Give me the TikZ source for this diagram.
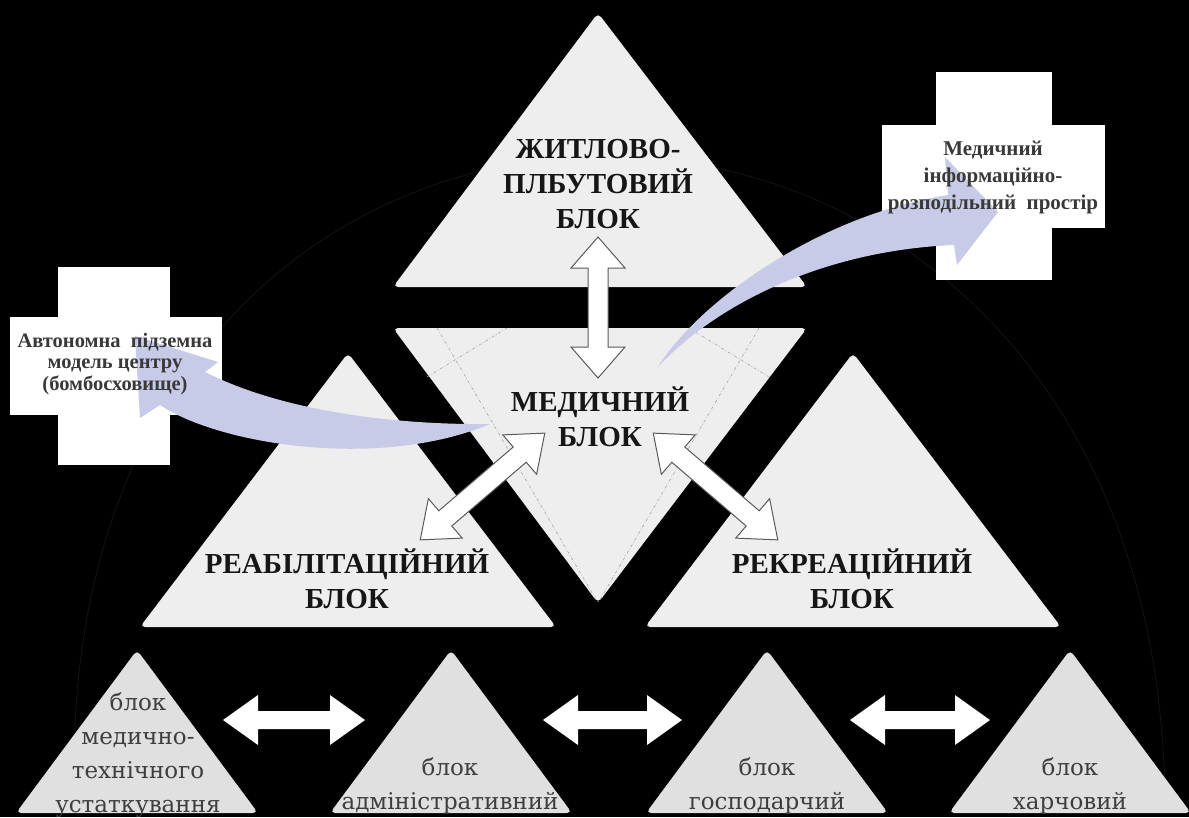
\documentclass[tikz,border=0pt]{standalone}
\usepackage{fontspec}
\setmainfont{Liberation Serif}
\newfontfamily\botfont{DejaVu Serif}
\definecolor{tri}{RGB}{238,238,238}
\definecolor{trib}{RGB}{224,224,224}
\definecolor{lav}{RGB}{200,203,232}
\definecolor{faint}{RGB}{16,21,28}
\definecolor{txt}{RGB}{22,22,22}
\definecolor{bottxt}{RGB}{62,62,62}
\definecolor{outl}{RGB}{90,90,90}
\newcommand\DblArrow[8]{%
 \begin{scope}[shift={(#1,#2)},rotate=#3]
 \path[#8] (-#4,0) -- (-#4+#5,#6) -- (-#4+#5,#7) -- (#4-#5,#7) -- (#4-#5,#6) -- (#4,0)
   -- (#4-#5,-#6) -- (#4-#5,-#7) -- (-#4+#5,-#7) -- (-#4+#5,-#6) -- cycle;
 \end{scope}}
\tikzset{
 bigtri/.style={fill=tri, rounded corners=5pt},
 smalltri/.style={fill=trib, rounded corners=5pt},
 crossbox/.style={fill=white},
 dashln/.style={draw=gray!70, line width=0.6pt, dash dot},
 faintln/.style={draw=faint, line width=0.8pt},
 curvearr/.style={fill=lav},
 outlarr/.style={fill=white, draw=outl, line width=1pt},
 plainarr/.style={fill=white},
 biglabel/.style={text=txt, align=center, font=\fontsize{29}{35}\selectfont\bfseries},
 botlabel/.style={text=bottxt, align=center, font=\botfont\fontsize{23}{34}\selectfont},
 crosslabel/.style={text=txt!85, align=center, font=\fontsize{20.5}{21.5}\selectfont\bfseries},
}
\begin{document}
\begin{tikzpicture}[x=1pt,y=-1pt]
\fill[black] (0,0) rectangle (1189,817);
\useasboundingbox (0,0) rectangle (1189,817);
% faint background arc
\draw[faintln] (75,805) .. controls (40,-60) and (1160,-60) .. (1165,805);
% big triangles
\fill[bigtri] (598,287) -- (807,287) -- (598,13) -- (393,287) -- cycle;
\fill[bigtri] (598,328) -- (807,328) -- (598,603) -- (393,328) -- cycle;
\fill[bigtri] (348,627) -- (556,627) -- (348,353) -- (140,627) -- cycle;
\fill[bigtri] (853,627) -- (1061,627) -- (853,353) -- (645,627) -- cycle;
% small triangles
\fill[smalltri] (137,813) -- (258,813) -- (137,650) -- (16,813) -- cycle;
\fill[smalltri] (451,813) -- (572,813) -- (451,650) -- (330,813) -- cycle;
\fill[smalltri] (767,813) -- (888,813) -- (767,650) -- (646,813) -- cycle;
\fill[smalltri] (1070,813) -- (1191,813) -- (1070,650) -- (949,813) -- cycle;
% dashed guide lines in the medical block
\path[dashln] (437,328) -- (598,603);
\path[dashln] (759,328) -- (598,603);
\path[dashln] (427,377) -- (507,328);
\path[dashln] (689,328) -- (769,377);
% crosses
\fill[crossbox] (58,267) rectangle (170,465);
\fill[crossbox] (10,317) rectangle (222,415);
\fill[crossbox] (936,72) rectangle (1052,280);
\fill[crossbox] (882,125) rectangle (1105,228);
% curved arrows
\coordinate (tA) at (490,424);
\coordinate (uA) at (205,372);
\coordinate (lA) at (160,405);
\fill[curvearr] (tA) .. controls (410,425) and (290,415) .. (uA) -- (218,362) -- (135,336) -- (140,418) -- (lA)
   .. controls (220,445) and (380,470) .. (tA) -- cycle;
\coordinate (tB) at (657,368);
\coordinate (uB) at (948,195);
\coordinate (lB) at (954,245);
\fill[curvearr] (tB) .. controls (700,300) and (820,215) .. (uB) -- (945,157) -- (998,212) -- (957,265) -- (lB)
   .. controls (830,250) and (720,300) .. (tB) -- cycle;
% double arrows
\DblArrow{598}{307.5}{90}{70.5}{31}{27}{10}{outlarr}
\DblArrow{482.5}{486.5}{40.6}{82}{33}{26}{10}{outlarr}
\DblArrow{715.5}{486.5}{-40.6}{82}{33}{26}{10}{outlarr}
\DblArrow{294}{720}{0}{71}{35}{25}{9}{plainarr}
\DblArrow{612.5}{720}{0}{69.5}{35}{25}{9}{plainarr}
\DblArrow{920}{720}{0}{70}{35}{25}{9}{plainarr}
% labels
\node[biglabel] (zhytl) at (598,184) {ЖИТЛОВО-\\ПЛБУТОВИЙ\\БЛОК};
\node[biglabel] (med) at (600,417) {МЕДИЧНИЙ\\БЛОК};
\node[biglabel] (reab) at (347,579) {РЕАБІЛІТАЦІЙНИЙ\\БЛОК};
\node[biglabel] (rekr) at (852,579) {РЕКРЕАЦІЙНИЙ\\БЛОК};
\node[botlabel] (b1) at (138,755) {блок\\медично-\\технічного\\устаткування};
\node[botlabel] (b2) at (450,786) {блок\\адміністративний};
\node[botlabel] (b3) at (767,786) {блок\\господарчий};
\node[botlabel] (b4) at (1070,786) {блок\\харчовий};
\node[crosslabel] (c1) at (115,364) {Автономна~~підземна\\модель центру\\(бомбосховище)};
\node[crosslabel, font=\fontsize{21}{27}\selectfont\bfseries] (c2) at (993,178) {Медичний\\інформаційно-\\розподільний~~простір};
\end{tikzpicture}
\end{document}
